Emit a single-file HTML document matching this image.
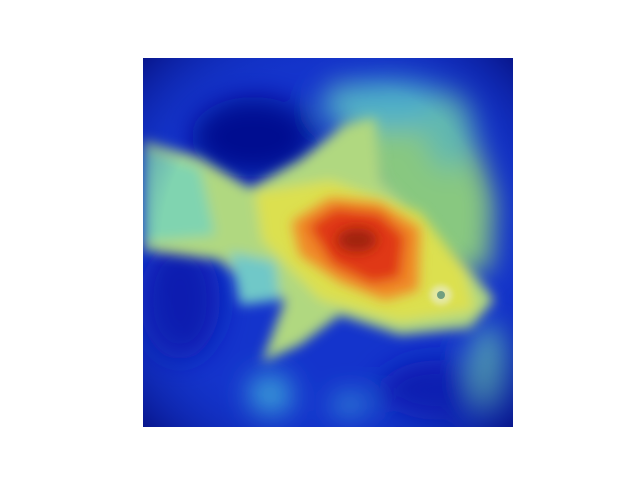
<!DOCTYPE html>
<html><head><meta charset="utf-8"><style>
html,body{margin:0;padding:0;background:#fff;width:640px;height:480px;overflow:hidden}
</style></head><body>
<svg width="640" height="480" viewBox="0 0 640 480" xmlns="http://www.w3.org/2000/svg">
<defs>
<clipPath id="c"><rect x="143" y="58" width="370" height="369"/></clipPath>
<filter id="b8" x="-50%" y="-50%" width="200%" height="200%"><feGaussianBlur stdDeviation="6"/></filter>
<filter id="b14" x="-50%" y="-50%" width="200%" height="200%"><feGaussianBlur stdDeviation="14"/></filter>
<filter id="b4" x="-50%" y="-50%" width="200%" height="200%"><feGaussianBlur stdDeviation="3"/></filter>
<radialGradient id="corner" cx="0.5" cy="0.5" r="0.75">
<stop offset="0.6" stop-color="#1236c8" stop-opacity="0"/>
<stop offset="1" stop-color="#000060" stop-opacity="0.8"/>
</radialGradient>
</defs>
<g clip-path="url(#c)">
<rect x="143" y="58" width="370" height="369" fill="#1434cc"/>
<g filter="url(#b14)">
<ellipse cx="253" cy="137" rx="62" ry="40" fill="#020f90"/>
<ellipse cx="180" cy="300" rx="40" ry="60" fill="#0a1fb0"/>
<ellipse cx="440" cy="390" rx="60" ry="30" fill="#0a1fb0"/>
<path d="M330 85 L410 80 L470 120 L495 200 L490 270 L430 275 L370 200 Z" fill="#88c880"/>
<ellipse cx="390" cy="105" rx="70" ry="25" fill="#50b0c8"/>
<ellipse cx="450" cy="130" rx="25" ry="40" fill="#60b8b0"/>
<ellipse cx="270" cy="395" rx="22" ry="22" fill="#3aa0d8"/>
<ellipse cx="350" cy="405" rx="18" ry="10" fill="#3aa0d8"/>
<ellipse cx="490" cy="370" rx="18" ry="45" fill="#60b8b0"/>
</g>
<g filter="url(#b8)">
<path d="M143 140 L200 158 L250 188 L300 160 L345 125 L375 118 L382 180 L430 230 L470 270 L495 300 L470 328 L400 335 L340 315 L300 345 L262 362 L285 300 L240 280 L220 260 L143 250 Z" fill="#b0d880"/>
<path d="M143 148 L200 168 L215 235 L143 242 Z" fill="#80d4b0"/>
<path d="M230 252 L275 262 L280 300 L240 305 Z" fill="#70c8c8"/>
<path d="M255 192 L330 180 L420 212 L465 270 L475 310 L400 322 L320 300 L262 240 Z" fill="#dce050"/>
</g>
<g filter="url(#b8)">
<path d="M292 222 L330 198 L380 203 L420 228 L418 290 L385 300 L340 282 L300 255 Z" fill="#f08828"/>
<path d="M308 226 L335 208 L380 213 L405 236 L400 278 L372 284 L332 264 Z" fill="#e03818"/>
</g>
<ellipse cx="357" cy="240" rx="20" ry="12" fill="#a02010" filter="url(#b8)"/>
<g filter="url(#b4)" opacity="0.7">
<ellipse cx="441" cy="295" rx="11" ry="10" fill="#e8ecc8"/>
</g>
<circle cx="441" cy="295" r="4" fill="#408070" opacity="0.7"/>
<rect x="143" y="58" width="370" height="369" fill="url(#corner)"/>
</g>
</svg>
</body></html>
